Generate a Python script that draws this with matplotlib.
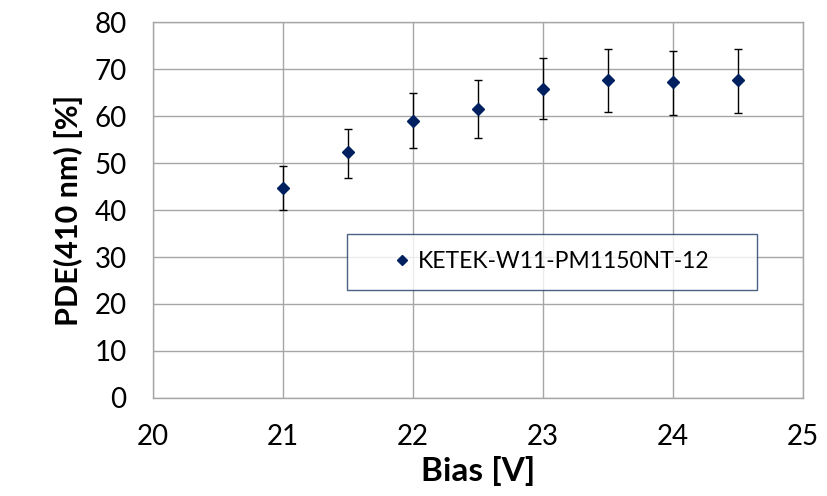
import matplotlib.pyplot as plt

# PDE vs bias voltage
bias = [21.0, 21.5, 22.0, 22.5, 23.0, 23.5, 24.0, 24.5]
pde = [44.7, 52.3, 59.0, 61.5, 65.7, 67.6, 67.2, 67.6]
err_hi = [49.3, 57.3, 64.9, 67.6, 72.4, 74.3, 73.8, 74.3]
err_lo = [40.1, 46.9, 53.1, 55.4, 59.3, 60.9, 60.3, 60.6]
label = "KETEK-W11-PM1150NT-12"

yerr = [[p - lo for p, lo in zip(pde, err_lo)],
        [hi - p for p, hi in zip(pde, err_hi)]]

plt.rcParams['font.family'] = ['Lato', 'DejaVu Sans']

fig = plt.figure(figsize=(8.28, 4.96), dpi=100)
ax = fig.add_axes([0.1848, 0.1976, 0.785, 0.758])

ax.errorbar(bias, pde, yerr=yerr, fmt='none', ecolor='black',
            elinewidth=1.0, capsize=3, capthick=1.0, zorder=3)
ax.plot(bias, pde, 'D', color='#002060', markersize=6.5, label=label, zorder=4)

ax.set_xlim(20, 25)
ax.set_ylim(0, 80)
ax.set_xticks(range(20, 26))
ax.set_yticks(range(0, 81, 10))
ax.grid(True, color='#a6a6a6', linewidth=1.0)
ax.set_axisbelow(True)
for s in ax.spines.values():
    s.set_color('#a6a6a6')
    s.set_linewidth(1.0)
ax.tick_params(length=0, labelsize=20, pad=19)

ax.set_xlabel("Bias [V]", fontsize=24, fontweight='bold', labelpad=4)
ax.set_ylabel("PDE(410 nm) [%]", fontsize=22, fontweight='bold', labelpad=8)

leg = ax.legend(loc='lower left', bbox_to_anchor=(0.298, 0.2875, 0.632, 0.1475),
                mode='expand', borderaxespad=0, fontsize=16.5, borderpad=0.76,
                handlelength=3.3, handletextpad=-0.95, markerscale=0.75,
                fancybox=False, numpoints=1)
leg.get_frame().set_edgecolor('#1f3864')
leg.get_frame().set_linewidth(1.0)

plt.savefig("out.png", dpi=100)
